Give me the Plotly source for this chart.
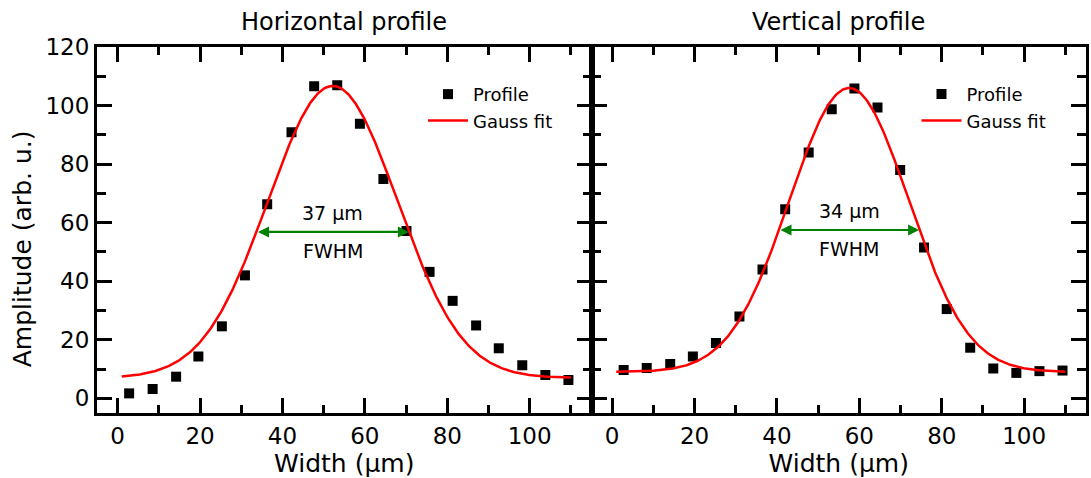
import numpy as np
import plotly.graph_objects as go

FONT = "DejaVu Sans, Liberation Sans, sans-serif"

# ---- data: horizontal profile ----
h_width = [2.8, 8.5, 14.2, 19.6, 25.3, 30.9, 36.3, 42.2, 47.7, 53.3,
           58.8, 64.5, 70.1, 75.7, 81.3, 87.0, 92.5, 98.2, 103.8, 109.4]
h_amp = [1.7, 3.2, 7.4, 14.3, 24.6, 42.0, 66.3, 90.9, 106.6, 106.9,
         93.8, 74.9, 57.2, 43.2, 33.3, 24.9, 17.1, 11.3, 8.0, 6.3]
# Gauss fit parameters (baseline, amplitude, centre, FWHM)
h_fit = dict(y0=7.0, A=99.7, xc=52.2, fwhm=37.0)

# ---- data: vertical profile ----
v_width = [2.8, 8.4, 14.1, 19.6, 25.2, 30.9, 36.5, 42.0, 47.7, 53.3,
           58.8, 64.4, 69.9, 75.7, 81.2, 86.9, 92.5, 98.1, 103.7, 109.3]
v_amp = [9.7, 10.4, 11.7, 14.3, 18.9, 28.0, 44.0, 64.6, 84.0, 98.7,
         105.8, 99.3, 78.0, 51.5, 30.5, 17.3, 10.2, 8.7, 9.3, 9.5]
v_fit = dict(y0=9.0, A=97.0, xc=57.5, fwhm=34.0)

fit_x_range = [1.0, 110.0]
fwhm_labels = ["37 µm", "34 µm"]
titles = ["Horizontal profile", "Vertical profile"]
x_ticks = [0, 20, 40, 60, 80, 100]
y_ticks = [0, 20, 40, 60, 80, 100, 120]


def gauss(p, x):
    s = p["fwhm"] / (2 * np.sqrt(2 * np.log(2)))
    return p["y0"] + p["A"] * np.exp(-0.5 * ((x - p["xc"]) / s) ** 2)


fx = np.linspace(fit_x_range[0], fit_x_range[1], 400)

fig = go.Figure()
panels = [(h_width, h_amp, h_fit, "x", "y", "legend"),
          (v_width, v_amp, v_fit, "x2", "y2", "legend2")]
for wx, amp, p, xa, ya, lg in panels:
    fig.add_trace(go.Scatter(x=wx, y=amp, mode="markers", name="Profile",
                             marker=dict(symbol="square", size=10, color="black"),
                             xaxis=xa, yaxis=ya, legend=lg))
    fig.add_trace(go.Scatter(x=fx, y=gauss(p, fx), mode="lines", name="Gauss fit",
                             line=dict(color="#ff0000", width=2.5),
                             xaxis=xa, yaxis=ya, legend=lg))

axis_common = dict(
    showline=True, linewidth=3, linecolor="black", mirror="allticks",
    ticks="inside", tickwidth=3, tickcolor="black",
    showgrid=False, zeroline=False,
    tickfont=dict(family=FONT, size=23, color="black"),
)
minor_x = dict(dtick=10, tick0=0, ticks="inside", ticklen=8, tickwidth=3, tickcolor="black")
minor_y = dict(dtick=10, tick0=0, ticks="inside", ticklen=9, tickwidth=3, tickcolor="black")

fig.update_layout(
    width=1091, height=478,
    margin=dict(l=97, r=2, t=47, b=65),
    plot_bgcolor="white", paper_bgcolor="white",
    font=dict(family=FONT, color="black"),
    showlegend=True,
    xaxis=dict(domain=[0, 0.5], range=[-5, 115], tickvals=x_ticks, ticklen=15, minor=minor_x,
               title=dict(text="Width (µm)", font=dict(family=FONT, size=25), standoff=0),
               anchor="y", **axis_common),
    yaxis=dict(domain=[0, 1], range=[-5, 120], tickvals=y_ticks, ticklen=15, minor=minor_y,
               anchor="x", **axis_common),
    xaxis2=dict(domain=[0.5, 1], range=[-5, 115], tickvals=x_ticks, ticklen=15, minor=minor_x,
                title=dict(text="Width (µm)", font=dict(family=FONT, size=25), standoff=0),
                anchor="y2", **axis_common),
    yaxis2=dict(domain=[0, 1], range=[-5, 120], tickvals=y_ticks, ticklen=15, minor=minor_y,
                showticklabels=False, anchor="x2", matches="y", **axis_common),
    legend=dict(x=0.3296, y=0.921, xanchor="left", yanchor="top",
                font=dict(family=FONT, size=18), bgcolor="rgba(0,0,0,0)",
                tracegroupgap=0, itemwidth=40),
    legend2=dict(x=0.8286, y=0.921, xanchor="left", yanchor="top",
                 font=dict(family=FONT, size=18), bgcolor="rgba(0,0,0,0)",
                 tracegroupgap=0, itemwidth=40),
)

annotations = []
for i, (p, xr, yr) in enumerate([(h_fit, "x", "y"), (v_fit, "x2", "y2")]):
    half = p["y0"] + p["A"] / 2
    annotations.append(dict(
        x=p["xc"] + p["fwhm"] / 2, y=half, ax=p["xc"] - p["fwhm"] / 2, ay=half,
        xref=xr, yref=yr, axref=xr, ayref=yr, text="", showarrow=True,
        arrowhead=2, arrowside="end+start", arrowsize=1, arrowwidth=2.2,
        arrowcolor="#008000", standoff=0, startstandoff=0))
    annotations.append(dict(x=p["xc"], y=half + 6.5, xref=xr, yref=yr,
                            text=fwhm_labels[i], showarrow=False,
                            font=dict(family=FONT, size=19, color="black")))
    annotations.append(dict(x=p["xc"], y=half - 6.5, xref=xr, yref=yr,
                            text="FWHM", showarrow=False,
                            font=dict(family=FONT, size=19, color="black")))
    annotations.append(dict(x=0.25 + 0.5 * i, y=1, xref="paper", yref="paper",
                            xanchor="center", yanchor="middle", yshift=25,
                            text=titles[i], showarrow=False,
                            font=dict(family=FONT, size=24, color="black")))
# y-axis title
annotations.append(dict(x=-0.0756, y=0.448, xref="paper", yref="paper",
                        xanchor="center", yanchor="middle", textangle=-90,
                        text="Amplitude (arb. u.)", showarrow=False,
                        font=dict(family=FONT, size=25, color="black")))
fig.update_layout(annotations=annotations)

fig.write_html("out.html")
